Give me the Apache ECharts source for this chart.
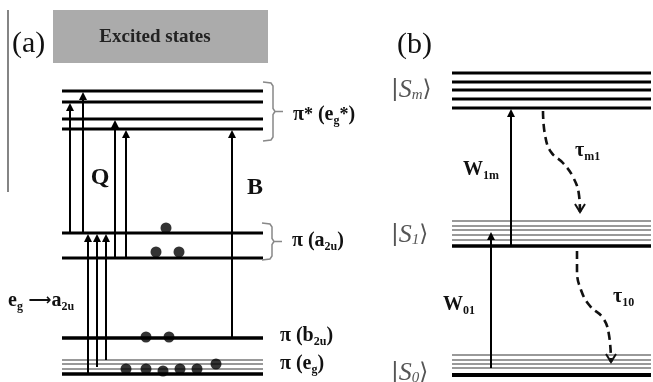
<!DOCTYPE html>
<html><head><meta charset="utf-8">
<script src="https://cdn.jsdelivr.net/npm/echarts/dist/echarts.min.js"></script>
<style>html,body{margin:0;padding:0;background:#fff}#c{width:653px;height:382px}</style>
</head><body><div id="c"></div><script>
// ---------- Panel (a): porphyrin orbital levels (diagram units) ----------
const spanA = [62, 263];
const piStarLevels = [91, 102, 119, 129];
const a2uLevels = [233, 258];
const b2uLevels = [338];
const egThinLevels = [360, 364, 369];
const egThickLevels = [374];
const qTransitions = [[70, 233, 103], [83, 233, 92], [115, 258, 120], [126, 258, 130]]; // [x, from, to]
const bTransitions = [[232, 338, 130]];
const egA2uTransitions = [[88, 374, 234], [97, 367, 234], [106, 360, 234]];
const electrons = [[166, 228], [156, 252], [179, 252], [146, 337], [169, 337],
                   [126, 369], [146, 369], [163, 371], [180, 369], [197, 369], [216, 364]];
const brackets = [[263, 82, 141], [262, 223, 260]]; // [x, top, bottom]
const excitedBox = [[53, 10, 268, 63]];
const sideRule = [[8, 10, 192]];
// ---------- Panel (b): three-level scheme ----------
const spanB = [452, 651];
const smLevels = [73, 82, 90, 99, 108];
const s1ThinLevels = [221, 226, 230, 235, 240];
const s1ThickLevels = [246];
const s0ThinLevels = [355, 360, 364, 368];
const s0ThickLevels = [375];
const pumpTransitions = [[511, 246, 109], [491, 368, 232]];
const tauM1 = [[543, 111], [545, 135], [551, 152], [563, 163], [573, 177], [579, 195], [580, 212]];
const tau10 = [[577, 251], [577, 270], [581, 290], [590, 306], [603, 318], [609, 335], [611, 362]];
// ---------- Text labels ----------
const labelTexts = [
  '{p|(a)}', '{p|(b)}', '{h|Excited states}', '{q|Q}', '{q|B}',
  '{n|π}{u|*}{n| (e}{s|g}{u|*}{n|)}', '{n|π (a}{s|2u}{n|)}', '{n|π (b}{s|2u}{n|)}', '{n|π (e}{s|g}{n|)}',
  '{n|e}{s|g}{a| ⟶}{n|a}{s|2u}',
  '{k||}{i|S}{t|m}{k|⟩}', '{k||}{i|S}{t|1}{k|⟩}', '{k||}{i|S}{t|0}{k|⟩}',
  '{n|W}{s|1m}', '{n|W}{s|01}', '{g|τ}{s|m1}', '{g|τ}{s|10}'
];
const labelAnchors = [
  [12, 44], [397, 45], [155, 37], [100, 178], [255, 188],
  [293, 115], [292, 241], [280, 336], [280, 364],
  [8, 301],
  [391, 90], [391, 235], [391, 373],
  [463, 170], [443, 305], [575, 151], [613, 297]
];
const labelAlign = ['left', 'left', 'center', 'center', 'center',
  'left', 'left', 'left', 'left', 'left', 'left', 'left', 'left', 'left', 'left', 'left', 'left'];

const FONT = '"Liberation Serif", "Times New Roman", serif';
const rich = {
  p: { fontFamily: FONT, fontSize: 30, fill: '#111', lineHeight: 32 },
  h: { fontFamily: FONT, fontSize: 19, fontWeight: 'bold', fill: '#222' },
  q: { fontFamily: FONT, fontSize: 24, fontWeight: 'bold', fill: '#111' },
  n: { fontFamily: FONT, fontSize: 20, fontWeight: 'bold', fill: '#111', lineHeight: 24 },
  u: { fontFamily: FONT, fontSize: 18, fontWeight: 'bold', fill: '#111', lineHeight: 24 },
  a: { fontFamily: '"DejaVu Sans", sans-serif', fontSize: 16, fontWeight: 'bold', fill: '#111', lineHeight: 24 },
  g: { fontFamily: FONT, fontSize: 20, fontWeight: 'bold', fill: '#111', lineHeight: 24 },
  s: { fontFamily: FONT, fontSize: 12, fontWeight: 'bold', fill: '#111', lineHeight: 13, verticalAlign: 'bottom' },
  k: { fontFamily: '"DejaVu Sans", sans-serif', fontSize: 23, fill: '#555', lineHeight: 26 },
  i: { fontFamily: FONT, fontSize: 26, fontStyle: 'italic', fill: '#555', lineHeight: 26 },
  t: { fontFamily: FONT, fontSize: 15, fontStyle: 'italic', fill: '#555', lineHeight: 14, verticalAlign: 'bottom' }
};

function hLines(levels, span, width, color) {
  return { type: 'custom', silent: true, z: 2, data: levels.map(y => [span[0], y, span[1]]),
    renderItem(params, api) {
      const a = api.coord([api.value(0), api.value(1)]), b = api.coord([api.value(2), api.value(1)]);
      return { type: 'line', shape: { x1: a[0], y1: a[1], x2: b[0], y2: b[1] }, style: { stroke: color, lineWidth: width } };
    } };
}
function arrows(list, width) {
  return { type: 'custom', silent: true, z: 3, data: list,
    renderItem(params, api) {
      const a = api.coord([api.value(0), api.value(1)]), b = api.coord([api.value(0), api.value(2)]);
      const h = 8, w = 4;
      return { type: 'group', children: [
        { type: 'line', shape: { x1: a[0], y1: a[1], x2: b[0], y2: b[1] + h - 1 }, style: { stroke: '#000', lineWidth: width } },
        { type: 'polygon', shape: { points: [[b[0], b[1]], [b[0] - w, b[1] + h], [b[0] + w, b[1] + h]] }, style: { fill: '#000' } }
      ] };
    } };
}
function dashed(points) {
  return { type: 'line', data: points, smooth: 0.45, symbol: 'none', silent: true, z: 3,
    lineStyle: { color: '#111', width: 2.6, type: [8, 5] } };
}
function chevron(points) {
  return { type: 'custom', silent: true, z: 3, data: [points[points.length - 1]],
    renderItem(params, api) {
      const p = api.coord([api.value(0), api.value(1)]);
      return { type: 'polyline', shape: { points: [[p[0] - 5, p[1] - 8], [p[0], p[1]], [p[0] + 5, p[1] - 8]] },
        style: { stroke: '#111', lineWidth: 2, fill: null } };
    } };
}

const series = [
  { type: 'custom', silent: true, z: 1, data: excitedBox,
    renderItem(params, api) {
      const a = api.coord([api.value(0), api.value(1)]), b = api.coord([api.value(2), api.value(3)]);
      return { type: 'rect', shape: { x: a[0], y: a[1], width: b[0] - a[0], height: b[1] - a[1] }, style: { fill: '#ababab' } };
    } },
  { type: 'custom', silent: true, z: 1, data: sideRule,
    renderItem(params, api) {
      const a = api.coord([api.value(0), api.value(1)]), b = api.coord([api.value(0), api.value(2)]);
      return { type: 'line', shape: { x1: a[0], y1: a[1], x2: b[0], y2: b[1] }, style: { stroke: '#333', lineWidth: 1.2 } };
    } },
  hLines(piStarLevels, spanA, 3, '#000'),
  hLines(a2uLevels, spanA, 3, '#000'),
  hLines(b2uLevels, spanA, 3.5, '#000'),
  hLines(egThinLevels, spanA, 1.8, '#999'),
  hLines(egThickLevels, spanA, 3.5, '#000'),
  hLines(smLevels, spanB, 3, '#000'),
  hLines(s1ThinLevels, spanB, 1.8, '#999'),
  hLines(s1ThickLevels, spanB, 3.5, '#000'),
  hLines(s0ThinLevels, spanB, 1.8, '#999'),
  hLines(s0ThickLevels, spanB, 4, '#000'),
  arrows(qTransitions, 2),
  arrows(bTransitions, 2),
  arrows(egA2uTransitions, 2),
  arrows(pumpTransitions, 2),
  { type: 'scatter', data: electrons, symbol: 'circle', symbolSize: 11, silent: true, z: 4,
    itemStyle: { color: '#000' } },
  { type: 'custom', silent: true, z: 2, data: brackets,
    renderItem(params, api) {
      const x = api.coord([api.value(0), api.value(1)])[0];
      const top = api.coord([api.value(0), api.value(1)])[1];
      const bot = api.coord([api.value(0), api.value(2)])[1];
      const mid = (top + bot) / 2;
      const st = { stroke: '#888', lineWidth: 1.5, fill: null };
      return { type: 'group', children: [
        { type: 'polyline', shape: { points: [[x, top], [x + 8, top + 1], [x + 10, top + 4], [x + 10, mid - 3], [x + 12, mid], [x + 20, mid]] }, style: st },
        { type: 'polyline', shape: { points: [[x + 12, mid], [x + 10, mid + 3], [x + 10, bot - 4], [x + 8, bot - 1], [x, bot]] }, style: st }
      ] };
    } },
  dashed(tauM1), chevron(tauM1),
  dashed(tau10), chevron(tau10),
  { type: 'custom', silent: true, z: 5, data: labelAnchors,
    renderItem(params, api) {
      const p = api.coord([api.value(0), api.value(1)]);
      return { type: 'text', x: p[0], y: p[1],
        style: { text: labelTexts[params.dataIndex], rich, align: labelAlign[params.dataIndex], verticalAlign: 'middle' } };
    } }
];

const chart = echarts.init(document.getElementById('c'));
chart.setOption({
  animation: false,
  backgroundColor: '#fff',
  grid: { left: 0, right: 0, top: 0, bottom: 0 },
  xAxis: { type: 'value', min: 0, max: 653, show: false },
  yAxis: { type: 'value', min: 0, max: 382, inverse: true, show: false },
  series
});
</script></body></html>
